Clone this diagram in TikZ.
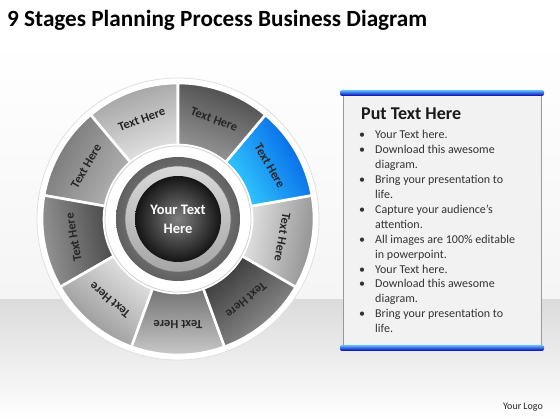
\documentclass[tikz,border=0pt]{standalone}
\usepackage{fontspec}
\setmainfont{Carlito}
\begin{document}
\begin{tikzpicture}[x=1pt,y=1pt,
  seglabel/.style={font=\bfseries\fontsize{12.5}{14}\selectfont, text=black!85, inner sep=1pt},
  listtxt/.style={anchor=base west, font=\fontsize{12}{14}\selectfont, text=black!80, inner sep=0pt},
  bul/.style={anchor=base west, font=\fontsize{12}{14}\selectfont, text=black!80, inner sep=0pt},
  bluebar/.style={top color=blue!40!cyan!60!white, bottom color=blue!70!black, draw=none, rounded corners=2pt}]
\useasboundingbox (0,0) rectangle (560,420);
% background
\shade[top color=white, bottom color=black!4] (0,120) rectangle (560,380);
\shade[top color=black!14, bottom color=white] (0,0) rectangle (560,120);
\fill[white] (0,380) rectangle (560,420);
% title
\node[anchor=base west, inner sep=0pt, font=\bfseries\fontsize{23.2}{27}\selectfont] (title) at (7,393) {9 Stages Planning Process Business Diagram};
% wheel
\begin{scope}[shift={(178,201)}]
  \fill[white] (0,0) circle[radius=141pt];
  \draw[black!12, line width=0.8pt] (0,0) circle[radius=141pt];
  \foreach \a/\ca/\cb in {
     90/black!10/black!38,
     130/black!30/black!55,
     170/black!72/black!40,
     210/black!10/black!45,
     250/black!55/black!20,
     290/black!78/black!40,
     330/black!10/black!45,
     10/cyan!75!blue!80!white/blue!60!cyan!90!black,
     50/black!40/black!72} {
    \shade[left color=\ca, right color=\cb, shading angle=\a+110]
      (\a:136) arc[start angle=\a, end angle=\a+40, radius=136pt]
      -- (\a+40:74) arc[start angle=\a+40, end angle=\a, radius=74pt] -- cycle;
    \draw[white, line width=2.6pt]
      (\a:136) arc[start angle=\a, end angle=\a+40, radius=136pt]
      -- (\a+40:74) arc[start angle=\a+40, end angle=\a, radius=74pt] -- cycle;
  }
  \foreach \m [count=\i] in {70,110,150,190,230,270,310,350,30}
    \node[seglabel, rotate=\m-90] (s\i) at (\m:106) {Text Here};
  % hub
  \fill[white] (0,0) circle[radius=73pt];
  \draw[black!18, line width=0.8pt] (0,0) circle[radius=73pt];
  \shade[inner color=black!40, outer color=black!62] (0,0) circle[radius=62pt];
  \shade[top color=black!15, bottom color=black!35] (0,0) circle[radius=53pt];
  \draw[black!55, line width=0.6pt] (0,0) circle[radius=53pt];
  \shade[inner color=black!50, outer color=black!92] (0,0) circle[radius=43pt];
  \node[text=white, font=\bfseries\fontsize{14.5}{19}\selectfont, align=center] (hub) at (0,0) {Your Text\\Here};
\end{scope}
% panel
\fill[black!5] (343,72) rectangle (541,327);
\draw[black!40, line width=0.9pt] (343,72) -- (343,327) (541,72) -- (541,327);
\shade[bluebar] (340,324) rectangle (544,330);
\shade[bluebar] (340,69) rectangle (544,75);
\node[anchor=base west, inner sep=0pt, font=\bfseries\fontsize{18}{21}\selectfont, text=black!90] (ptitle) at (361,300) {Put Text Here};
\foreach \t [count=\i] in {Your Text here.,Download this awesome,diagram.,Bring your presentation to,life.,Capture your audience’s,attention.,All images are 100\% editable,in powerpoint.,Your Text here.,Download this awesome,diagram.,Bring your presentation to,life.}
  \node[listtxt] (l\i) at (375,{281-14.9*(\i-1)}) {\t};
\foreach \i in {1,2,4,6,8,10,11,13}
  \node[bul] (b\i) at (359,{281-14.9*(\i-1)}) {\textbullet};
\node[font=\fontsize{10}{12}\selectfont, text=black!85] (logo) at (523,13) {Your Logo};
\end{tikzpicture}
\end{document}
